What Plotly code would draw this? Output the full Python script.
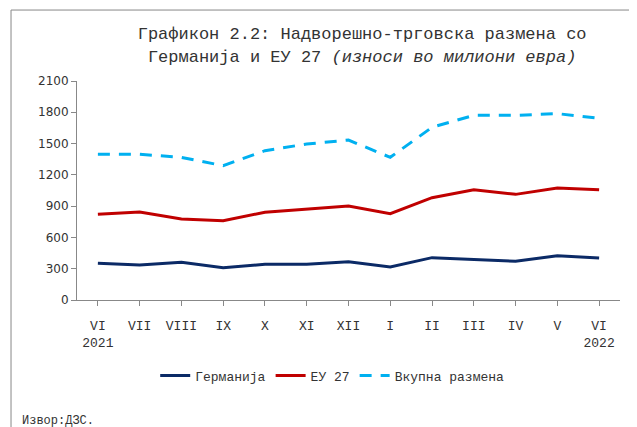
import plotly.graph_objects as go

MONTHS = ['VI<br>2021', 'VII', 'VIII', 'IX', 'X', 'XI', 'XII', 'I', 'II', 'III', 'IV', 'V', 'VI<br>2022']
GERMANY = [352, 336, 361, 310, 342, 342, 367, 316, 406, 390, 372, 425, 403]
EU27 = [822, 844, 777, 761, 841, 869, 901, 828, 981, 1058, 1013, 1074, 1058]
TOTAL = [1397, 1397, 1368, 1288, 1432, 1496, 1534, 1368, 1656, 1771, 1771, 1787, 1742]

NAVY = '#0b2a66'
RED = '#c00000'
SKY = '#00b0f0'
MONO = 'Liberation Mono, Courier New, monospace'
SANS = 'DejaVu Sans, Verdana, sans-serif'

x = list(range(len(MONTHS)))

fig = go.Figure()
fig.add_trace(go.Scatter(x=x, y=GERMANY, name='Германија', mode='lines',
                         line=dict(color=NAVY, width=3)))
fig.add_trace(go.Scatter(x=x, y=EU27, name='ЕУ 27', mode='lines',
                         line=dict(color=RED, width=3)))
fig.add_trace(go.Scatter(x=x, y=TOTAL, name='Вкупна размена', mode='lines',
                         line=dict(color=SKY, width=3, dash='12px,9px')))

# page has an 8px body margin, so the figure is sized 8px short
fig.update_layout(
    width=629, height=419,
    paper_bgcolor='white', plot_bgcolor='white',
    margin=dict(l=69, r=17, t=73, b=127),
    title=dict(
        text='Графикон 2.2: Надворешно-трговска размена со<br>'
             'Германија и ЕУ 27 <i>(износи во милиони евра)</i>',
        x=0.563, xanchor='center', y=0.925, yanchor='top',
        font=dict(family=MONO, size=17, color='#333'),
    ),
    showlegend=True,
    legend=dict(orientation='h', x=0.47, xanchor='center', y=-0.345, yanchor='middle',
                font=dict(family=MONO, size=13, color='#333'),
                tracegroupgap=0),
    shapes=[dict(type='rect', xref='paper', yref='paper', layer='above',
                 x0=-0.1215, x1=1.05, y0=-0.6, y1=1.324,
                 line=dict(color='#888', width=1), fillcolor='rgba(0,0,0,0)')],
    annotations=[dict(text='Извор:ДЗС.', xref='paper', yref='paper',
                      x=-0.105, y=-0.553, xanchor='left', yanchor='middle',
                      showarrow=False, font=dict(family=MONO, size=12, color='#333'))],
)
fig.update_xaxes(
    tickmode='array', tickvals=x, ticktext=MONTHS,
    range=[-0.5, len(MONTHS) - 0.5],
    showline=True, linecolor='#888', linewidth=1,
    ticks='outside', tickson='boundaries', ticklen=5, tickcolor='#888',
    ticklabelstandoff=8,
    tickfont=dict(family=MONO, size=13, color='#333'),
    showgrid=False, zeroline=False,
)
fig.update_yaxes(
    range=[0, 2100], dtick=300,
    showline=True, linecolor='#888', linewidth=1,
    ticks='outside', ticklen=5, tickcolor='#888',
    tickfont=dict(family=SANS, size=12, color='#333'),
    showgrid=False, zeroline=False,
)

fig.write_html('out.html')
